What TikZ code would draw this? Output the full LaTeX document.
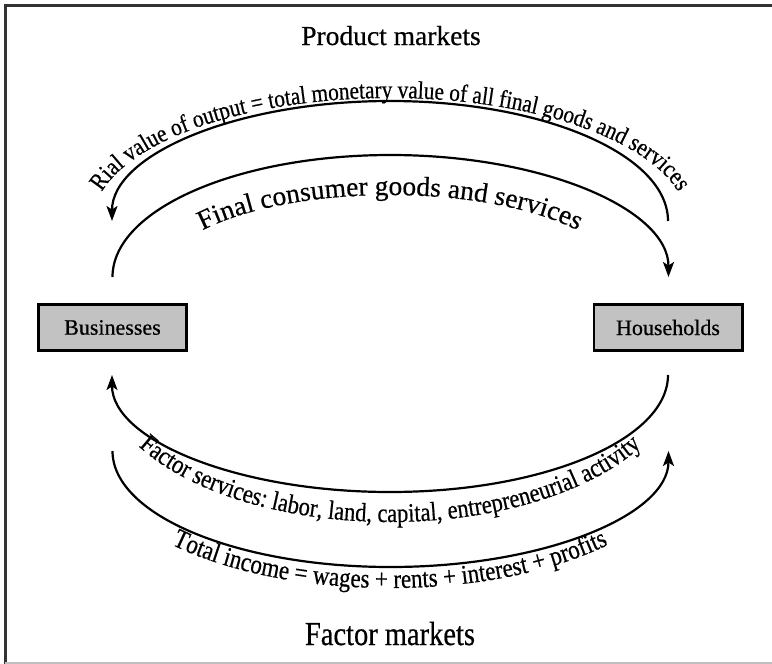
\documentclass[tikz,border=0pt]{standalone}
\usepackage{fontspec}
\setmainfont{Liberation Serif}[FakeBold=0.5]
\newfontfamily\narrowrm[FakeStretch=0.85,FakeBold=0.5]{Liberation Serif}
\usetikzlibrary{arrows.meta,decorations.text}

\begin{document}
\begin{tikzpicture}[x=1pt,y=1pt,
  marketbox/.style={draw,line width=2.8pt,fill=black!24,minimum width=148.2pt,minimum height=46.2pt,inner sep=0pt,font=\fontsize{22}{26}\selectfont},
  flowarc/.style={line width=2.2pt,-{Stealth[length=15pt,width=11pt,inset=3.5pt]}},
  arctext/.style={decorate,decoration={text along path,text align=center}}]

% page and frame
\useasboundingbox (0,0) rectangle (772,-664);
\draw[black!80,line width=3pt] (772,-5) -- (5,-5) -- (5,-664);
\draw[black!25,line width=2pt] (5,-663) -- (772,-663);

% market titles
\node (prodmk) [anchor=base,font=\fontsize{27.5}{32}\selectfont] at (391,-45) {Product markets};
\node (factmk) [anchor=base,font=\narrowrm\fontsize{33.5}{38}\selectfont] at (390,-645) {Factor markets};

% sectors
\node (bus) [marketbox] at (112.5,-327.5) {Businesses};
\node (hh) [marketbox] at (668,-327.5) {Households};

% product market: money flow
\draw[flowarc] ([yshift=82pt]hh.north) arc[start angle=0,end angle=180,x radius=278pt,y radius=120pt];
\path[arctext,decoration={text={|\narrowrm\fontsize{25}{30}\selectfont|Rial value of output = total monetary value of all final goods and services}}]
  (93,-222) arc[start angle=180,end angle=0,x radius=297pt,y radius=124pt];

% product market: goods flow
\draw[flowarc] ([yshift=26pt]bus.north) arc[start angle=180,end angle=0,x radius=278pt,y radius=122pt];
\path[arctext,decoration={text={|\fontsize{27.5}{32}\selectfont|Final consumer goods and services}}]
  (161,-278) arc[start angle=180,end angle=0,x radius=229pt,y radius=83pt];

% factor market: services flow
\draw[flowarc] ([yshift=-23pt]hh.south) arc[start angle=0,end angle=-180,x radius=278pt,y radius=117pt];
\path[arctext,decoration={text={|\narrowrm\fontsize{26.5}{31}\selectfont|Factor services: labor, land, capital, entrepreneurial activity}}]
  (102,-374) arc[start angle=180,end angle=360,x radius=288pt,y radius=148pt];

% factor market: income flow
\draw[flowarc] ([yshift=-99pt]bus.south) arc[start angle=180,end angle=360,x radius=278pt,y radius=116pt];
\path[arctext,decoration={text={|\narrowrm\fontsize{27}{32}\selectfont|Total income = wages + rents + interest + profits}}]
  (90,-450) arc[start angle=180,end angle=360,x radius=300pt,y radius=138pt];

\end{tikzpicture}
\end{document}
